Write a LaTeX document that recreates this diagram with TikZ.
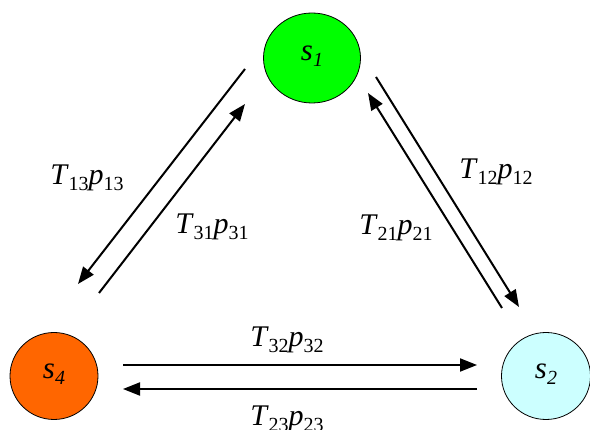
\documentclass[tikz,border=0pt]{standalone}
\usepackage{fontspec}
\setmainfont{Liberation Serif}
\usetikzlibrary{arrows.meta,shapes.geometric}
\newcommand{\subn}[1]{\raisebox{-0.2em}{\fontsize{20}{20}\selectfont #1}}
\newcommand{\rate}[2]{\textit{T}\subn{#1}\textit{p}\subn{#2}}
\tikzset{
  state/.style={draw=black, line width=0.8pt, ellipse, inner sep=0pt},
  trans/.style={line width=2pt, -{Triangle[length=17pt,width=13pt]}},
  lab/.style={inner sep=0pt, font=\fontsize{30}{32}\selectfont},
  slab/.style={font=\fontsize{31}{34}\selectfont\itshape}
}
\begin{document}
\begin{tikzpicture}[x=1pt,y=-1pt]
\useasboundingbox (0,0) rectangle (590,430);
\node[state, fill={rgb,255:red,0;green,255;blue,0}, minimum width=97pt, minimum height=90pt] (s1) at (312,58) {};
\node[slab] (l1) at (312,56) {s\subn{\itshape 1}};
\node[state, fill={rgb,255:red,255;green,102;blue,0}, minimum width=88pt, minimum height=87pt] (s4) at (54,376) {};
\node[slab] (l4) at (54,374) {s\subn{\itshape 4}};
\node[state, fill={rgb,255:red,204;green,255;blue,255}, minimum width=89pt, minimum height=87pt] (s2) at (546,376) {};
\node[slab] (l2) at (546,374) {s\subn{\itshape 2}};
% endpoints
\coordinate (a1) at (245,69);  \coordinate (a2) at (78,284);
\coordinate (b1) at (99,293);  \coordinate (b2) at (245,104);
\coordinate (c1) at (376,77);  \coordinate (c2) at (519,307);
\coordinate (d1) at (502,308); \coordinate (d2) at (368,93);
\coordinate (e1) at (123,365); \coordinate (e2) at (477,365);
\coordinate (f1) at (477,389); \coordinate (f2) at (123,389);
\draw[trans] (a1) -- (a2);
\draw[trans] (b1) -- (b2);
\draw[trans] (c1) -- (c2);
\draw[trans] (d1) -- (d2);
\draw[trans] (e1) -- (e2);
\draw[trans] (f1) -- (f2);
\node[lab] (t13) at (87,178) {\rate{13}{13}};
\node[lab] (t31) at (212,227) {\rate{31}{31}};
\node[lab] (t12) at (496,172) {\rate{12}{12}};
\node[lab] (t21) at (396,228) {\rate{21}{21}};
\node[lab] (t32) at (287,340) {\rate{32}{32}};
\node[lab] (t23) at (287,419) {\rate{23}{23}};
\end{tikzpicture}
\end{document}
